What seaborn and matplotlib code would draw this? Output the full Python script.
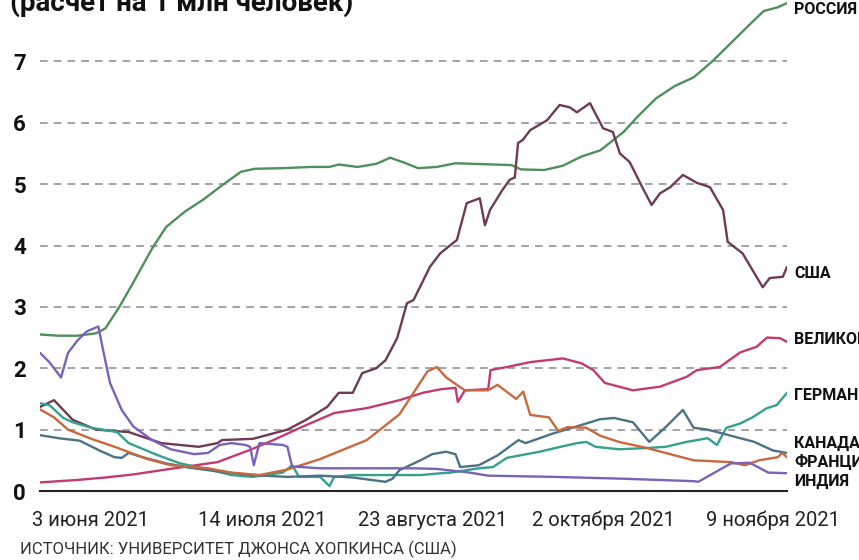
import pandas as pd
import matplotlib.pyplot as plt
import matplotlib.transforms as mtransforms
import seaborn as sns

# days since 3 June 2021 (tick every 40 units), values per 1 mln people
russia_x = [0, 4, 8, 12, 14, 17, 20, 24, 27, 31, 35, 39, 43, 46, 52, 58, 62, 64, 68, 72,
            75, 78, 81, 85, 89, 93, 97, 101, 103, 108, 112, 116, 120, 125, 128, 132, 136,
            140, 144, 148, 152, 155, 158, 160]
russia_y = [2.55, 2.53, 2.53, 2.57, 2.65, 3.0, 3.4, 3.95, 4.3, 4.55, 4.75, 4.98, 5.2, 5.25,
            5.26, 5.28, 5.28, 5.32, 5.28, 5.33, 5.43, 5.35, 5.26, 5.28, 5.34, 5.33, 5.32,
            5.31, 5.24, 5.23, 5.3, 5.45, 5.55, 5.85, 6.1, 6.4, 6.6, 6.74, 7.0, 7.3, 7.6,
            7.82, 7.88, 7.95]

usa_x = [0, 3, 7, 12, 19, 26, 34, 38, 39, 45.6, 53, 57, 61.5, 64, 67, 69, 72, 74, 76.5,
         78.6, 80, 83.5, 85.7, 87.8, 89.3, 91.4, 94.2, 95.3, 96.4, 99, 100.6, 101.7, 102.4,
         103.4, 105, 108.6, 111.3, 113.5, 115, 117.8, 120.6, 122.7, 124.2, 126.3, 129, 131,
         132.8, 135, 137.7, 140.7, 143.5, 146.3, 147.3, 150.5, 154.8, 156.3, 159.1, 160]
usa_y = [1.37, 1.48, 1.16, 1.0, 0.96, 0.78, 0.72, 0.78, 0.83, 0.85, 1.0, 1.16, 1.37, 1.6,
         1.6, 1.92, 2.0, 2.13, 2.49, 3.06, 3.11, 3.65, 3.87, 4.0, 4.09, 4.69, 4.77, 4.33,
         4.58, 4.9, 5.07, 5.11, 5.67, 5.72, 5.88, 6.04, 6.29, 6.25, 6.17, 6.32, 5.91, 5.85,
         5.5, 5.36, 4.95, 4.66, 4.85, 4.95, 5.15, 5.02, 4.95, 4.58, 4.06, 3.87, 3.32, 3.47,
         3.49, 3.65]

uk_x = [0, 8, 14, 20, 27, 38, 45, 50, 56, 63, 70, 77, 82, 86, 89, 89.5, 91, 96, 96.5, 100,
        105, 112, 116, 118.5, 121, 127, 132.8, 138.5, 140.7, 145.6, 150, 153.5, 155.7,
        158.5, 160]
uk_y = [0.14, 0.18, 0.22, 0.27, 0.35, 0.47, 0.67, 0.83, 1.04, 1.27, 1.35, 1.48, 1.6, 1.66,
        1.68, 1.45, 1.64, 1.66, 1.97, 2.02, 2.1, 2.16, 2.08, 1.97, 1.76, 1.64, 1.7, 1.86,
        1.97, 2.02, 2.26, 2.35, 2.5, 2.49, 2.43]

germany_x = [0, 2, 5, 7, 11, 16.5, 19, 25, 30, 35, 41, 45.5, 52, 54, 55.5, 60, 62, 63, 67,
             74, 81.5, 86, 88, 94, 97, 100, 103.5, 107, 111.5, 115, 117, 119, 124, 130, 134,
             138.5, 143, 145, 147, 150, 152.6, 155.7, 157.8, 160]
germany_y = [1.43, 1.4, 1.19, 1.12, 1.03, 0.96, 0.78, 0.59, 0.45, 0.37, 0.26, 0.23, 0.3,
             0.42, 0.23, 0.23, 0.08, 0.23, 0.26, 0.26, 0.26, 0.29, 0.3, 0.37, 0.39, 0.54,
             0.59, 0.64, 0.72, 0.78, 0.8, 0.72, 0.68, 0.7, 0.72, 0.8, 0.86, 0.75, 1.03, 1.1,
             1.2, 1.35, 1.4, 1.6]

canada_x = [0, 4, 8.5, 13, 16, 17.5, 19, 22, 27, 32, 38, 45, 53, 60, 67, 74, 75.5, 77,
            81.5, 84, 87, 89, 90, 94, 98, 102.5, 104, 110, 114, 120, 123, 127, 130.5, 134,
            137.7, 140, 143, 147, 153, 157, 160]
canada_y = [0.91, 0.86, 0.82, 0.65, 0.55, 0.54, 0.62, 0.55, 0.45, 0.38, 0.32, 0.26, 0.23,
            0.25, 0.22, 0.15, 0.2, 0.34, 0.5, 0.6, 0.64, 0.6, 0.39, 0.42, 0.58, 0.83, 0.78,
            0.94, 1.03, 1.17, 1.19, 1.12, 0.8, 1.04, 1.32, 1.03, 1.0, 0.92, 0.8, 0.66, 0.62]

france_x = [0, 3, 6, 11, 16, 23, 28, 36, 41, 47, 53, 60, 70, 77, 80, 83, 85, 87, 91, 96,
            98, 102, 103.5, 105, 109, 111, 113, 117, 120, 124, 130, 134, 140, 148, 151, 154,
            158, 159, 160]
france_y = [1.33, 1.2, 1.0, 0.85, 0.72, 0.52, 0.42, 0.37, 0.3, 0.26, 0.35, 0.52, 0.83, 1.25,
            1.6, 1.95, 2.02, 1.85, 1.64, 1.64, 1.73, 1.5, 1.62, 1.24, 1.2, 0.98, 1.04, 1.03,
            0.9, 0.8, 0.7, 0.62, 0.5, 0.47, 0.42, 0.5, 0.55, 0.62, 0.55]

india_x = [0, 2, 4.5, 6, 8, 10, 12.5, 13.5, 15, 17.5, 20, 24, 28, 33, 36, 38.5, 41, 44,
           45, 45.8, 47, 52, 53, 54, 60, 80, 85, 92, 96, 110, 125, 140, 141, 148, 152, 156,
           160]
india_y = [2.25, 2.1, 1.85, 2.25, 2.45, 2.6, 2.68, 2.3, 1.76, 1.32, 1.05, 0.83, 0.68, 0.6,
           0.62, 0.75, 0.78, 0.75, 0.72, 0.42, 0.78, 0.75, 0.72, 0.4, 0.37, 0.37, 0.36, 0.3,
           0.25, 0.23, 0.2, 0.16, 0.15, 0.45, 0.46, 0.3, 0.29]

countries = ['РОССИЯ', 'США', 'ВЕЛИКОБРИТАНИЯ', 'ГЕРМАНИЯ', 'КАНАДА', 'ФРАНЦИЯ', 'ИНДИЯ']
series_x = [russia_x, usa_x, uk_x, germany_x, canada_x, france_x, india_x]
series_y = [russia_y, usa_y, uk_y, germany_y, canada_y, france_y, india_y]
colors = ['#4f8f5a', '#6e3b52', '#c23a74', '#34a08e', '#4c7286', '#c9683f', '#7a62b8']
label_y = [7.85, 3.55, 2.47, 1.55, 0.78, 0.47, 0.15]

tick_pos = [0, 40, 80, 120, 160]
tick_labels = ['3 июня 2021', '14 июля 2021', '23 августа 2021', '2 октября 2021', '9 ноября 2021']
tick_shift = [50, 35, 19, 3, -14]   # label offset from its tick, px
y_ticks = [0, 1, 2, 3, 4, 5, 6, 7]

frames = [pd.DataFrame({'day': x, 'value': y, 'country': c})
          for x, y, c in zip(series_x, series_y, countries)]
df = pd.concat(frames, ignore_index=True)

sns.set_style('white')
plt.rcParams['font.family'] = ['Roboto', 'DejaVu Sans']

fig = plt.figure(figsize=(8.59, 5.6), dpi=100)
ax = fig.add_axes([40 / 859, 69 / 560, 747 / 859, 491 / 560])

for yv in y_ticks[1:]:
    ax.axhline(yv, color='#8a8a8a', lw=1.1, ls=(0, (5, 4)), zorder=0)

sns.lineplot(data=df, x='day', y='value', hue='country', hue_order=countries,
             palette=colors, estimator=None, sort=True, linewidth=1.7,
             legend=False, ax=ax)

ax.set_xlim(0, 160)
ax.set_ylim(0, 8)
ax.set_xlabel('')
ax.set_ylabel('')
ax.set_xticks(tick_pos)
ax.set_xticklabels([])
ax.set_yticks(y_ticks)
ax.set_yticklabels([str(v) for v in y_ticks], fontsize=16, fontweight='bold', color='#111111')
ax.tick_params(axis='x', direction='out', length=8, width=1.3, color='#222222')
ax.tick_params(axis='y', length=0, pad=10)

# date labels, shifted from the ticks as in the original layout
for pos, lab, dx in zip(tick_pos, tick_labels, tick_shift):
    tr = mtransforms.offset_copy(ax.get_xaxis_transform(), fig=fig, x=dx, y=-29, units='dots')
    ax.text(pos, 0, lab, transform=tr, fontsize=14.5, color='#222222',
            ha='center', va='center', clip_on=False)

for side in ['top', 'right', 'left']:
    ax.spines[side].set_visible(False)
ax.spines['bottom'].set_color('#222222')
ax.spines['bottom'].set_linewidth(1.5)

for name, yv in zip(countries, label_y):
    ax.text(161.5, yv, name, fontsize=11.5, fontweight='bold', color='#111111',
            va='center', ha='left', clip_on=False)

fig.text(0.012, 1 - 11 / 560, '(расчет на 1 млн человек)', fontsize=20,
         fontweight='bold', color='#111111', va='baseline', ha='left')
fig.text(0.023, 1 - 549 / 560, 'ИСТОЧНИК: УНИВЕРСИТЕТ ДЖОНСА ХОПКИНСА (США)', fontsize=12,
         color='#333333', va='center', ha='left')

fig.savefig('out.png', dpi=100)
